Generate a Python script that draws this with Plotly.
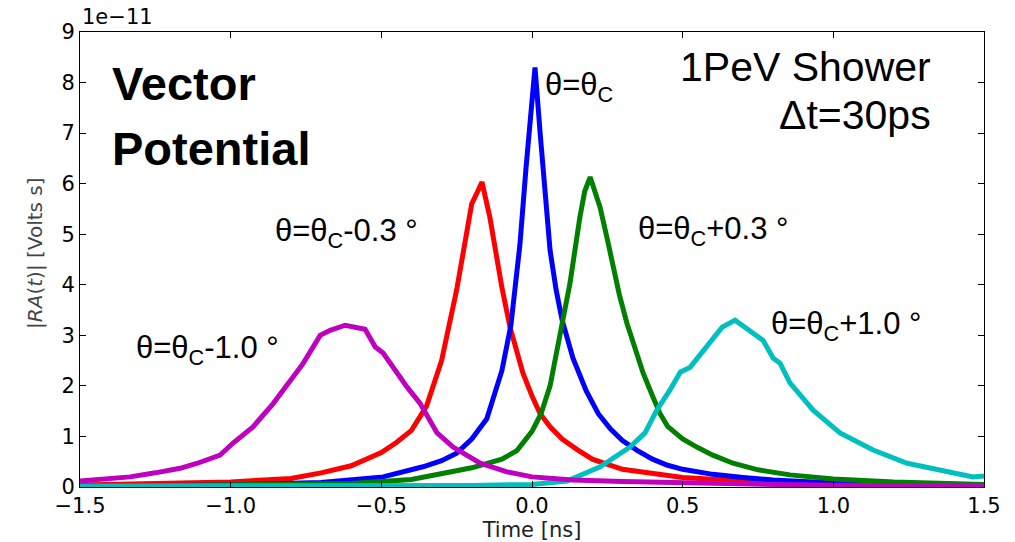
import plotly.graph_objects as go

# values in units of 1e-11 Volt*s, time in ns
mag_t = [-1.5, -1.40, -1.334, -1.25, -1.168, -1.11, -1.035, -0.992, -0.926, -0.859, -0.803, -0.76,
         -0.703, -0.67, -0.62, -0.554, -0.52, -0.494, -0.415, -0.372, -0.315, -0.262, -0.172,
         -0.083, 0.0, 0.136, 0.30, 0.49, 0.8, 1.1, 1.5]
mag_v = [0.12, 0.16, 0.20, 0.28, 0.37, 0.47, 0.63, 0.87, 1.19, 1.65, 2.11, 2.44,
         3.0, 3.1, 3.2, 3.12, 2.77, 2.65, 1.98, 1.66, 1.07, 0.79, 0.47,
         0.30, 0.20, 0.14, 0.11, 0.08, 0.05, 0.03, 0.02]

red_t = [-1.5, -1.2, -1.0, -0.8, -0.7, -0.6, -0.5, -0.45, -0.4, -0.35, -0.3, -0.25,
         -0.2, -0.18, -0.166, -0.14, -0.12, -0.1, -0.073, -0.05, -0.03, 0.0, 0.027, 0.06,
         0.1, 0.15, 0.2, 0.3, 0.4, 0.5, 0.7, 1.0, 1.5]
red_v = [0.04, 0.07, 0.10, 0.17, 0.28, 0.42, 0.68, 0.88, 1.12, 1.6, 2.5, 3.9,
         5.6, 5.85, 6.03, 5.34, 4.6, 3.95, 3.16, 2.65, 2.25, 1.8, 1.45, 1.19,
         0.95, 0.74, 0.55, 0.35, 0.26, 0.19, 0.12, 0.07, 0.04]

blue_t = [-1.5, -1.0, -0.7, -0.494, -0.362, -0.3, -0.25, -0.2, -0.15, -0.1, -0.07, -0.04,
          -0.02, 0.0, 0.01, 0.027, 0.045, 0.06, 0.08, 0.1, 0.136, 0.18, 0.22, 0.26,
          0.3, 0.35, 0.4, 0.45, 0.5, 0.6, 0.7, 0.8, 1.0, 1.5]
blue_v = [0.02, 0.04, 0.09, 0.2, 0.4, 0.52, 0.67, 0.95, 1.35, 2.3, 3.2, 4.8,
          6.3, 7.6, 8.3, 7.0, 5.6, 4.68, 3.9, 3.3, 2.55, 1.9, 1.45, 1.15,
          0.92, 0.72, 0.55, 0.43, 0.35, 0.25, 0.19, 0.14, 0.08, 0.03]

green_t = [-1.5, -1.0, -0.6, -0.4, -0.3, -0.2, -0.1, -0.05, 0.0, 0.03, 0.06, 0.083,
           0.1, 0.126, 0.159, 0.175, 0.193, 0.226, 0.25, 0.269, 0.29, 0.315, 0.34, 0.369,
           0.4, 0.425, 0.45, 0.5, 0.55, 0.6, 0.667, 0.75, 0.856, 1.0, 1.2, 1.5]
green_v = [0.01, 0.03, 0.07, 0.15, 0.27, 0.38, 0.55, 0.72, 1.1, 1.45, 2.0, 2.7,
           3.2, 4.03, 5.34, 5.85, 6.13, 5.53, 4.9, 4.35, 3.8, 3.24, 2.75, 2.25,
           1.8, 1.45, 1.2, 0.95, 0.78, 0.63, 0.47, 0.34, 0.24, 0.16, 0.1, 0.05]

cyan_t = [-1.5, -0.5, -0.2, 0.0, 0.116, 0.226, 0.325, 0.375, 0.414, 0.458, 0.492, 0.525,
          0.581, 0.631, 0.674, 0.734, 0.767, 0.8, 0.823, 0.856, 0.933, 1.022, 1.132, 1.245,
          1.354, 1.464, 1.5]
cyan_v = [0.02, 0.02, 0.03, 0.05, 0.12, 0.4, 0.79, 1.07, 1.52, 1.92, 2.27, 2.37,
          2.77, 3.16, 3.30, 3.04, 2.9, 2.55, 2.45, 2.06, 1.52, 1.07, 0.73, 0.47,
          0.34, 0.2, 0.22]

series = [
    (red_t, red_v, "#ff0000"),
    (blue_t, blue_v, "#0000ff"),
    (green_t, green_v, "#008000"),
    (cyan_t, cyan_v, "#00bfbf"),
    (mag_t, mag_v, "#bf00bf"),
]

fig = go.Figure()
for t, v, c in series:
    fig.add_trace(go.Scatter(x=t, y=v, mode="lines", line=dict(color=c, width=5),
                             showlegend=False, hoverinfo="skip"))

ann_font = "Liberation Sans, Arial, sans-serif"
SUBC = "<sub>C</sub>"
labels = [
    ("<b>Vector</b>", -1.40, 7.99, "left", 47),
    ("<b>Potential</b>", -1.40, 6.69, "left", 47),
    ("1PeV Shower", 1.331, 8.31, "right", 41),
    ("Δt=30ps", 1.331, 7.36, "right", 41),
    ("θ=θ" + SUBC, 0.035, 7.92, "left", 31),
    ("θ=θ" + SUBC + "-0.3\u00a0°", -0.86, 5.02, "left", 31),
    ("θ=θ" + SUBC + "+0.3\u00a0°", 0.345, 5.06, "left", 31),
    ("θ=θ" + SUBC + "+1.0\u00a0°", 0.785, 3.18, "left", 31),
    ("θ=θ" + SUBC + "-1.0\u00a0°", -1.322, 2.71, "left", 31),
]
annotations = [
    dict(text=txt, x=x, y=y, xref="x", yref="y", xanchor=xa, yanchor="middle",
         showarrow=False, font=dict(family=ann_font, size=s, color="black"))
    for txt, x, y, xa, s in labels
]
annotations.append(dict(text="1e\u221211", x=0, y=1, xref="paper", yref="paper",
                        xanchor="left", yanchor="bottom", showarrow=False, yshift=1,
                        font=dict(family="DejaVu Sans", size=21, color="black")))
# y-axis label placed as rotated annotation for exact placement
annotations.append(dict(text="|<i>RA</i>(<i>t</i>)| [Volts s]", x=-0.0498, y=4.63,
                        xref="paper", yref="y", xanchor="center", yanchor="middle",
                        textangle=-90, showarrow=False,
                        font=dict(family="DejaVu Sans", size=20, color="#444")))

axis_common = dict(showgrid=False, zeroline=False, showline=True, linecolor="black",
                   linewidth=1, mirror="ticks", ticks="inside", ticklen=6, tickcolor="black",
                   automargin=False,
                   tickfont=dict(family="DejaVu Sans", size=21, color="black"))

fig.update_layout(
    width=1015, height=542,
    margin=dict(l=80, r=31, t=32, b=55),
    paper_bgcolor="white", plot_bgcolor="white",
    xaxis=dict(range=[-1.5, 1.5], tickvals=[-1.5, -1.0, -0.5, 0.0, 0.5, 1.0, 1.5],
               tickformat=".1f",
               title=dict(text="Time [ns]", font=dict(family="DejaVu Sans", size=21, color="#222"),
                          standoff=3),
               **axis_common),
    yaxis=dict(range=[0, 9], tickvals=list(range(10)), **axis_common),
    annotations=annotations,
)

fig.write_html("out.html")
